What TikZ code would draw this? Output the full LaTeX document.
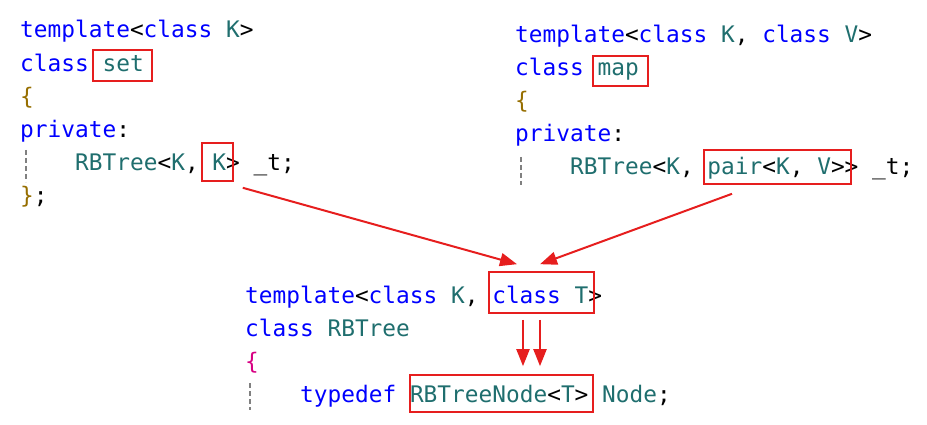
\documentclass[tikz,border=0pt]{standalone}
\usepackage{fontspec}
\newfontfamily\codefont{DejaVu Sans Mono}
\usetikzlibrary{arrows.meta}
\definecolor{kwblue}{RGB}{0,0,255}
\definecolor{idteal}{RGB}{31,110,110}
\definecolor{bracegold}{RGB}{150,110,0}
\definecolor{bracepink}{RGB}{215,0,130}
\definecolor{markred}{RGB}{230,30,30}
\newcommand{\kw}[1]{\textcolor{kwblue}{#1}}
\newcommand{\ty}[1]{\textcolor{idteal}{#1}}

\begin{document}
\begin{tikzpicture}[x=1pt,y=-1pt,
	code/.style={anchor=base west, inner sep=0pt, font=\codefont\fontsize{22.8}{30}\selectfont},
	hlbox/.style={draw=markred, line width=1.6pt, inner sep=0pt},
	link/.style={draw=markred, line width=2pt, -{Triangle[length=17pt,width=13pt]}},
	guide/.style={gray, line width=1.2pt, dash pattern=on 5pt off 3pt}]
	\useasboundingbox (0,0) rectangle (927,425);
	% set
	\node[code] (s1) at (20,38) {\kw{template}<\kw{class} \ty{K}>};
	\node[code] (s2) at (20,72) {\kw{class} \ty{set}};
	\node[code] (s3) at (20,105) {\textcolor{bracegold}{\{}};
	\node[code] (s4) at (20,138) {\kw{private}:};
	\node[code] (s5) at (75,171) {\ty{RBTree}<\ty{K}, \ty{K}> \_t;};
	\node[code] (s6) at (20,204) {\textcolor{bracegold}{\}};};
	\draw[guide] (26,150) -- (26,182);
	% map
	\node[code] (m1) at (515,43) {\kw{template}<\kw{class} \ty{K}, \kw{class} \ty{V}>};
	\node[code] (m2) at (515,76) {\kw{class} \ty{map}};
	\node[code] (m3) at (515,109) {\textcolor{bracegold}{\{}};
	\node[code] (m4) at (515,142) {\kw{private}:};
	\node[code] (m5) at (570,175) {\ty{RBTree}<\ty{K}, \ty{pair}<\ty{K}, \ty{V}>{}> \_t;};
	\draw[guide] (521,157) -- (521,185);
	% RBTree
	\node[code] (r1) at (245,303) {\kw{template}<\kw{class} \ty{K}, \kw{class} \ty{T}>};
	\node[code] (r2) at (245,336) {\kw{class} \ty{RBTree}};
	\node[code] (r3) at (245,369) {\textcolor{bracepink}{\{}};
	\node[code] (r4) at (300,402) {\kw{typedef} \ty{RBTreeNode}<\ty{T}> \ty{Node};};
	\draw[guide] (250,383) -- (250,410);
	% red boxes
	\node[hlbox, minimum width=59pt, minimum height=31pt] (setbox) at (122.5,65.5) {};
	\node[hlbox, minimum width=31pt, minimum height=38pt] (kbox) at (217.5,162) {};
	\node[hlbox, minimum width=55pt, minimum height=30pt] (mapbox) at (620.5,71) {};
	\node[hlbox, minimum width=147pt, minimum height=34pt] (pairbox) at (777.5,167) {};
	\node[hlbox, minimum width=105pt, minimum height=41pt] (tbox) at (541.5,292.5) {};
	\node[hlbox, minimum width=183pt, minimum height=37pt] (nodebox) at (501.5,393.5) {};
	% arrows
	\draw[link] ([shift={(9,6)}]kbox.south east) -- ([shift={(-24.5,-7)}]tbox.north);
	\draw[link] ([shift={(-45.5,9)}]pairbox.south) -- ([shift={(-1.5,-7)}]tbox.north);
	\draw[link] ([shift={(-18.5,6)}]tbox.south) -- ([shift={(21.5,-8)}]nodebox.north);
	\draw[link] ([shift={(-1.5,6)}]tbox.south) -- ([shift={(38.5,-8)}]nodebox.north);
\end{tikzpicture}
\end{document}
